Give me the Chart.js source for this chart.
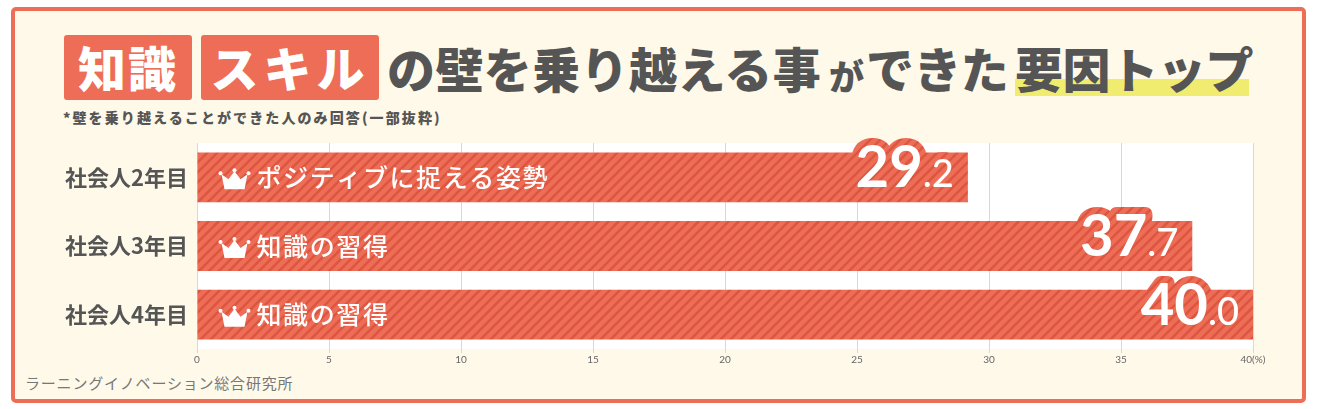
<!DOCTYPE html>
<html lang="ja">
<head>
<meta charset="utf-8">
<title>壁を乗り越える事ができた要因トップ</title>
<script src="https://cdn.jsdelivr.net/npm/chart.js@4"></script>
<style>
    html, body { margin: 0; padding: 0; background: #fff; }
    body { width: 1320px; height: 409px; overflow: hidden; position: relative; font-family: "Noto Sans CJK JP", sans-serif; }
    #frame { position: absolute; left: 11px; top: 7px; width: 1287px; height: 388px; background: #fef9e9; border: 4px solid #ee6d56; border-radius: 5px; }
    #trendChart { position: absolute; left: 0; top: 0; }
    .t { position: absolute; white-space: nowrap; font-weight: 900; color: #555; line-height: 1; }
    .tag { position: absolute; top: 35px; height: 65px; background: #ee6d56; border-radius: 3px; color: #fff; font-weight: 900; font-size: 48px; line-height: 62px; text-align: center; }
    #mark { position: absolute; left: 1015px; top: 79px; width: 234px; height: 17px; background: #f0ec6f; }
</style>
</head>
<body>
<div id="frame"></div>
<div id="mark"></div>
<div class="tag" style="left:64px;width:128px;letter-spacing:2px">知識</div>
<div class="tag" style="left:201px;width:178px;letter-spacing:5px">スキル</div>
<div class="t" style="left:387px;top:43px;font-size:48px;letter-spacing:.4px">の壁を乗り越える事</div>
<div class="t" style="left:829px;top:57px;font-size:35px">が</div>
<div class="t" style="left:866px;top:43px;font-size:48px;letter-spacing:-.6px">できた</div>
<div class="t" style="left:1015px;top:43px;font-size:48px;letter-spacing:-.4px">要因トップ</div>
<div class="t" style="left:63px;top:110px;font-size:14px;font-weight:900;letter-spacing:2.1px">*壁を乗り越えることができた人のみ回答(一部抜粋)</div>
<div class="t" style="left:25px;top:375px;font-size:15px;font-weight:400;color:#777;letter-spacing:.8px">ラーニングイノベーション総合研究所</div>
<canvas id="trendChart" width="1320" height="409"></canvas>
<script>
const categories = ["社会人2年目", "社会人3年目", "社会人4年目"];
const values = [29.2, 37.7, 40.0];
const factors = ["ポジティブに捉える姿勢", "知識の習得", "知識の習得"];
const xTicks = [0, 5, 10, 15, 20, 25, 30, 35, 40];

function hatch(ctx) {
    const tile = document.createElement("canvas");
    tile.width = 10;
    tile.height = 10;
    const t = tile.getContext("2d");
    t.fillStyle = "#ee6d56";
    t.fillRect(0, 0, 10, 10);
    t.strokeStyle = "#dc5640";
    t.lineWidth = 2.6;
    t.beginPath();
    t.moveTo(-3, 3); t.lineTo(3, -3);
    t.moveTo(0, 10); t.lineTo(10, 0);
    t.moveTo(7, 13); t.lineTo(13, 7);
    t.stroke();
    return ctx.createPattern(tile, "repeat");
}

function crown(ctx, x, y) {
    ctx.save();
    ctx.translate(x, y);
    ctx.fillStyle = "#fff";
    ctx.beginPath();
    ctx.moveTo(-10, 10);
    ctx.lineTo(-13, -5);
    ctx.lineTo(-6, 0);
    ctx.lineTo(0, -8);
    ctx.lineTo(6, 0);
    ctx.lineTo(13, -5);
    ctx.lineTo(10, 10);
    ctx.closePath();
    ctx.fill();
    [[-14, -6], [0, -9], [14, -6]].forEach(([cx, cy]) => {
        ctx.beginPath();
        ctx.arc(cx, cy, 2, 0, Math.PI * 2);
        ctx.fill();
    });
    ctx.restore();
}

const plotBackground = {
    id: "plotBackground",
    beforeDraw(chart) {
        const { ctx, chartArea: a } = chart;
        ctx.save();
        ctx.fillStyle = "#fff";
        ctx.fillRect(a.left, a.top, a.right - a.left, a.bottom - a.top);
        ctx.restore();
    },
};

const barLabels = {
    id: "barLabels",
    afterDatasetsDraw(chart) {
        const { ctx } = chart;
        const pattern = hatch(ctx);
        chart.getDatasetMeta(0).data.forEach((bar, i) => {
            ctx.save();
            crown(ctx, bar.base + 37, bar.y + 2);

            ctx.fillStyle = "#fff";
            ctx.textBaseline = "middle";
            ctx.font = '500 25px "Noto Sans CJK JP"';
            ctx.letterSpacing = "1.6px";
            ctx.fillText(factors[i], bar.base + 59, bar.y);
            ctx.letterSpacing = "0px";

            // big integer part, small decimal part, hatched halo behind both
            const [whole, dec] = values[i].toFixed(1).split(".");
            const small = "." + dec;
            const baseline = bar.y + 10;
            const right = bar.x - 14;
            ctx.textBaseline = "alphabetic";
            ctx.lineJoin = "round";
            ctx.font = '500 38px Lato';
            const smallW = ctx.measureText(small).width;
            ctx.font = '700 58px Lato';
            const wholeW = ctx.measureText(whole).width;
            const wholeX = right - smallW - wholeW;
            ctx.strokeStyle = pattern;
            ctx.lineWidth = 14;
            ctx.strokeText(whole, wholeX, baseline);
            ctx.font = '500 38px Lato';
            ctx.strokeText(small, right - smallW, baseline);
            ctx.fillStyle = "#fff";
            ctx.fillText(small, right - smallW, baseline);
            ctx.font = '700 58px Lato';
            ctx.fillText(whole, wholeX, baseline);
            ctx.restore();
        });
    },
};

const trendEl = document.getElementById("trendChart");

new Chart(trendEl, {
    type: "bar",
    data: {
        labels: categories,
        datasets: [
            {
                data: values,
                backgroundColor: hatch(trendEl.getContext("2d")),
                barPercentage: 0.725,
                categoryPercentage: 1,
            },
        ],
    },
    options: {
        indexAxis: "y",
        responsive: false,
        animation: false,
        layout: { padding: { top: 143, right: 67, bottom: 38, left: 0 } },
        plugins: { legend: { display: false }, tooltip: { enabled: false } },
        scales: {
            x: {
                min: 0,
                max: 40,
                afterFit(scale) { scale.height = 22; },
                afterBuildTicks(scale) { scale.ticks = xTicks.map((value) => ({ value })); },
                grid: { color: "#d8d8d8", tickColor: "#d8d8d8", tickLength: 4 },
                border: { display: false },
                ticks: {
                    color: "#666",
                    font: { size: 10, family: "Lato" },
                    padding: 1,
                    maxRotation: 0,
                    callback: (v) => (v === 40 ? "40(%)" : v),
                },
            },
            y: {
                afterFit(scale) { scale.width = 197; },
                grid: { display: false },
                border: { display: false },
                ticks: {
                    color: "#555",
                    padding: 1,
                    font: { size: 22, weight: "700", family: '"Noto Sans CJK JP"' },
                },
            },
        },
    },
    plugins: [plotBackground, barLabels],
});
</script>
</body>
</html>
